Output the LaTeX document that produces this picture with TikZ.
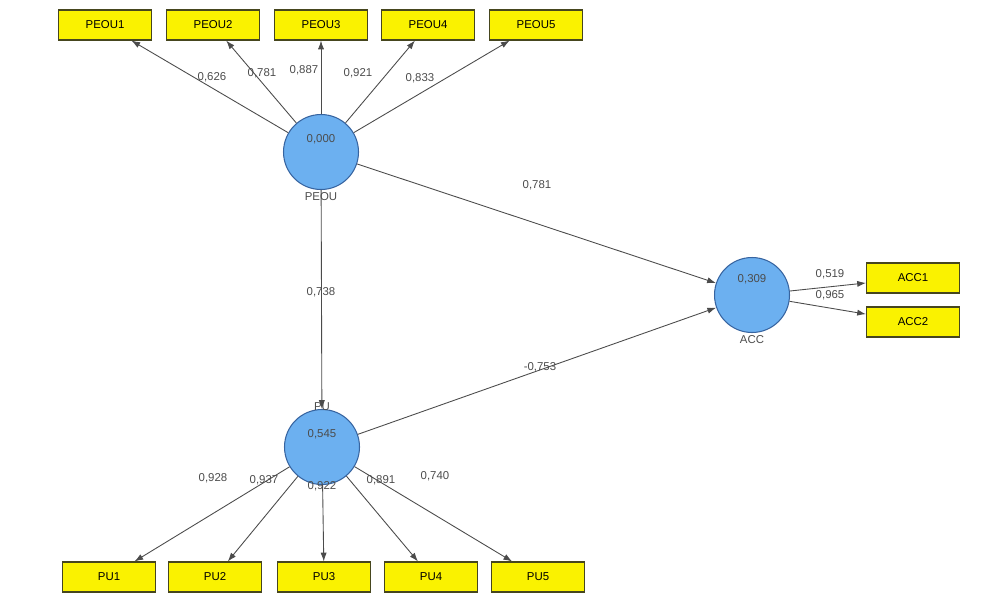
\documentclass[tikz,border=0pt]{standalone}
\usepackage{fontspec}
\setmainfont{Liberation Sans}
\usetikzlibrary{arrows.meta}

\definecolor{boxyellow}{RGB}{250,242,0}
\definecolor{boxborder}{RGB}{70,70,30}
\definecolor{circblue}{RGB}{108,176,240}
\definecolor{circborder}{RGB}{55,100,160}
\definecolor{linkgray}{RGB}{75,75,75}

\begin{document}
\begin{tikzpicture}[x=0.02cm, y=-0.02cm,
  indicator/.style={draw=boxborder, fill=boxyellow, inner sep=0pt, line width=0.6pt,
    minimum width=1.86cm, minimum height=0.6cm, font=\fontsize{6.5}{8}\selectfont},
  construct/.style={circle, draw=circborder, fill=circblue, minimum size=1.5cm,
    inner sep=0pt, line width=0.6pt},
  lbl/.style={font=\fontsize{6.5}{8}\selectfont, text=black!70, inner sep=1pt},
  link/.style={-{Latex[length=5pt,width=3.5pt]}, draw=linkgray, line width=0.5pt}]

  \useasboundingbox (0,0) rectangle (982,592);

  % Constructs
  \node[construct, label={[lbl, yshift=7pt]center:0,000}, label={[lbl]below:PEOU}] (peou) at (321,152) {};
  \node[construct, label={[lbl, yshift=7pt]center:0,545}, label={[lbl, yshift=-2pt]above:PU}] (pu) at (322,447) {};
  \node[construct, label={[lbl, yshift=9pt]center:0,309}, label={[lbl]below:ACC}] (acc) at (752,295) {};

  % PEOU indicators
  \foreach \i/\x in {1/105, 2/213, 3/321, 4/428, 5/536}
    \node[indicator] (peou\i) at (\x,25) {PEOU\i};

  % PU indicators
  \foreach \i/\x in {1/109, 2/215, 3/324, 4/431, 5/538}
    \node[indicator] (pu\i) at (\x,577) {PU\i};

  % ACC indicators
  \node[indicator] (acc1) at (913,278) {ACC1};
  \node[indicator] (acc2) at (913,322) {ACC2};

  % Outer loadings
  \foreach \i in {1,...,5}
    \draw[link] (peou) -- (peou\i);
  \foreach \i in {1,...,5}
    \draw[link] (pu) -- (pu\i);
  \draw[link] (acc) -- (acc1);
  \draw[link] (acc) -- (acc2);

  % Path coefficients
  \draw[link] (peou) -- (acc);
  \draw[link] (peou) -- (pu);
  \draw[link] (pu) -- (acc);

  % Loading values
  \node[lbl] at (212,77) {0,626};
  \node[lbl] at (262,73) {0,781};
  \node[lbl] at (304,70) {0,887};
  \node[lbl] at (358,73) {0,921};
  \node[lbl] at (420,78) {0,833};
  \node[lbl] at (213,478) {0,928};
  \node[lbl] at (264,480) {0,937};
  \node[lbl] at (322,486) {0,922};
  \node[lbl] at (381,480) {0,891};
  \node[lbl] at (435,476) {0,740};
  \node[lbl] at (830,274) {0,519};
  \node[lbl] at (830,295) {0,965};

  % Path values
  \node[lbl] at (537,185) {0,781};
  \node[lbl] at (321,292) {0,738};
  \node[lbl] at (540,367) {-0,753};

\end{tikzpicture}
\end{document}
